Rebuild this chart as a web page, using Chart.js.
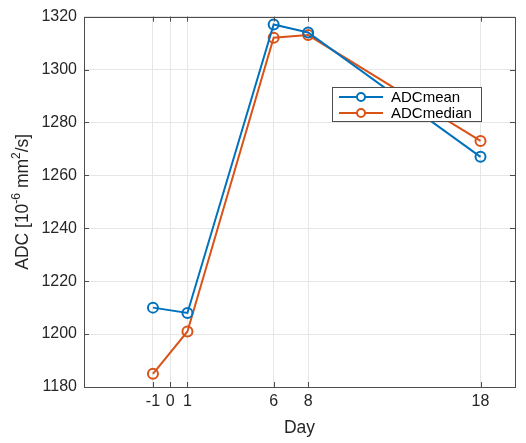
<!DOCTYPE html>
<html>
<head>
<meta charset="utf-8">
<script src="https://cdn.jsdelivr.net/npm/chart.js@4.4.0/dist/chart.umd.min.js"></script>
<style>
  html, body { margin: 0; padding: 0; background: #fff; }
  #wrap { width: 526px; height: 443px; position: relative; }
</style>
</head>
<body>
<div id="wrap"><canvas id="adc-chart"></canvas></div>
<script>
// Data
const days = [-1, 1, 6, 8, 18];
const adcMean = [1210, 1208, 1317, 1314, 1267];
const adcMedian = [1185, 1201, 1312, 1313, 1273];
const xTicks = [-1, 0, 1, 6, 8, 18];
const yTicks = [1180, 1200, 1220, 1240, 1260, 1280, 1300, 1320];

const BLUE = '#0072BD';
const ORANGE = '#D95319';
const AXIS = '#4d4d4d';
const TEXT = '#262626';
const FONT = "'Liberation Sans', Arial, sans-serif";

function toPoints(ys) {
    return days.map((d, i) => ({ x: d, y: ys[i] }));
}

// MATLAB-style box with inward ticks on all four sides
const boxPlugin = {
    id: 'matlabBox',
    afterDatasetsDraw(chart) {
        const { ctx, chartArea: a, scales } = chart;
        const len = 5;
        ctx.save();
        ctx.strokeStyle = AXIS;
        ctx.lineWidth = 1;
        ctx.beginPath();
        xTicks.forEach(v => {
            const px = Math.round(scales.x.getPixelForValue(v)) + 0.5;
            ctx.moveTo(px, a.bottom); ctx.lineTo(px, a.bottom - len);
            ctx.moveTo(px, a.top); ctx.lineTo(px, a.top + len);
        });
        yTicks.forEach(v => {
            const py = Math.round(scales.y.getPixelForValue(v)) + 0.5;
            ctx.moveTo(a.left, py); ctx.lineTo(a.left + len, py);
            ctx.moveTo(a.right, py); ctx.lineTo(a.right - len, py);
        });
        ctx.stroke();
        ctx.strokeRect(Math.round(a.left) + 0.5, Math.round(a.top) + 0.5,
            Math.round(a.right - a.left), Math.round(a.bottom - a.top));
        ctx.restore();
    }
};

// y-axis title with real superscripts
const yTitlePlugin = {
    id: 'yTitle',
    afterDraw(chart) {
        const { ctx, chartArea: a } = chart;
        const parts = [
            { t: 'ADC [10', size: 17.5, rise: 0 },
            { t: '-6', size: 12, rise: 8 },
            { t: ' mm', size: 17.5, rise: 0 },
            { t: '2', size: 12, rise: 8 },
            { t: '/s]', size: 17.5, rise: 0 }
        ];
        ctx.save();
        let total = 0;
        parts.forEach(p => {
            ctx.font = p.size + 'px ' + FONT;
            p.w = ctx.measureText(p.t).width;
            total += p.w;
        });
        ctx.translate(28, (a.top + a.bottom) / 2);
        ctx.rotate(-Math.PI / 2);
        ctx.fillStyle = TEXT;
        ctx.textBaseline = 'alphabetic';
        let cx = -total / 2;
        parts.forEach(p => {
            ctx.font = p.size + 'px ' + FONT;
            ctx.fillText(p.t, cx, -p.rise);
            cx += p.w;
        });
        ctx.restore();
    }
};

// Legend box placed inside the axes, like the original
const legendPlugin = {
    id: 'insideLegend',
    afterDraw(chart) {
        const { ctx } = chart;
        const x = 332, y = 87, w = 149, h = 34;
        ctx.save();
        ctx.fillStyle = '#fff';
        ctx.fillRect(x, y, w, h);
        ctx.strokeStyle = AXIS;
        ctx.lineWidth = 1;
        ctx.strokeRect(x + 0.5, y + 0.5, w, h);
        chart.data.datasets.forEach((ds, i) => {
            const ry = y + 10 + i * 16;
            ctx.strokeStyle = ds.borderColor;
            ctx.lineWidth = 2;
            ctx.beginPath();
            ctx.moveTo(x + 7, ry); ctx.lineTo(x + 51, ry);
            ctx.stroke();
            ctx.beginPath();
            ctx.arc(x + 29, ry, 4, 0, Math.PI * 2);
            ctx.fillStyle = '#fff';
            ctx.fill();
            ctx.stroke();
            ctx.fillStyle = '#000';
            ctx.font = '15px ' + FONT;
            ctx.textBaseline = 'middle';
            ctx.fillText(ds.label, x + 59, ry + 1);
        });
        ctx.restore();
    }
};

new Chart(document.getElementById('adc-chart'), {
    type: 'line',
    data: {
        datasets: [
            {
                label: 'ADCmean',
                data: toPoints(adcMean),
                borderColor: BLUE,
                borderWidth: 2,
                pointRadius: 5,
                pointBorderWidth: 2,
                pointBackgroundColor: 'rgba(255,255,255,0)',
                tension: 0
            },
            {
                label: 'ADCmedian',
                data: toPoints(adcMedian),
                borderColor: ORANGE,
                borderWidth: 2,
                pointRadius: 5,
                pointBorderWidth: 2,
                pointBackgroundColor: 'rgba(255,255,255,0)',
                tension: 0
            }
        ]
    },
    options: {
        responsive: true,
        maintainAspectRatio: false,
        animation: false,
        layout: { padding: { top: 16, right: 11, left: 0, bottom: 0 } },
        plugins: {
            legend: { display: false },
            tooltip: { enabled: false }
        },
        scales: {
            x: {
                type: 'linear',
                min: -5,
                max: 20,
                afterBuildTicks(scale) {
                    scale.ticks = xTicks.map(v => ({ value: v }));
                },
                afterFit(scale) { scale.height = 56; },
                grid: { color: '#e6e6e6', drawTicks: false },
                border: { display: false },
                ticks: {
                    color: TEXT,
                    font: { family: FONT, size: 16 },
                    padding: 5,
                    maxRotation: 0,
                    autoSkip: false,
                    callback: v => String(v)
                },
                title: {
                    display: true,
                    text: 'Day',
                    color: TEXT,
                    font: { family: FONT, size: 17.5 },
                    padding: { top: 0 }
                }
            },
            y: {
                min: 1180,
                max: 1320,
                afterBuildTicks(scale) {
                    scale.ticks = yTicks.map(v => ({ value: v }));
                },
                afterFit(scale) { scale.width = 84; },
                grid: { color: '#e6e6e6', drawTicks: false },
                border: { display: false },
                ticks: {
                    color: TEXT,
                    font: { family: FONT, size: 16 },
                    padding: 7,
                    callback: v => String(v)
                }
            }
        }
    },
    plugins: [boxPlugin, yTitlePlugin, legendPlugin]
});
</script>
</body>
</html>
